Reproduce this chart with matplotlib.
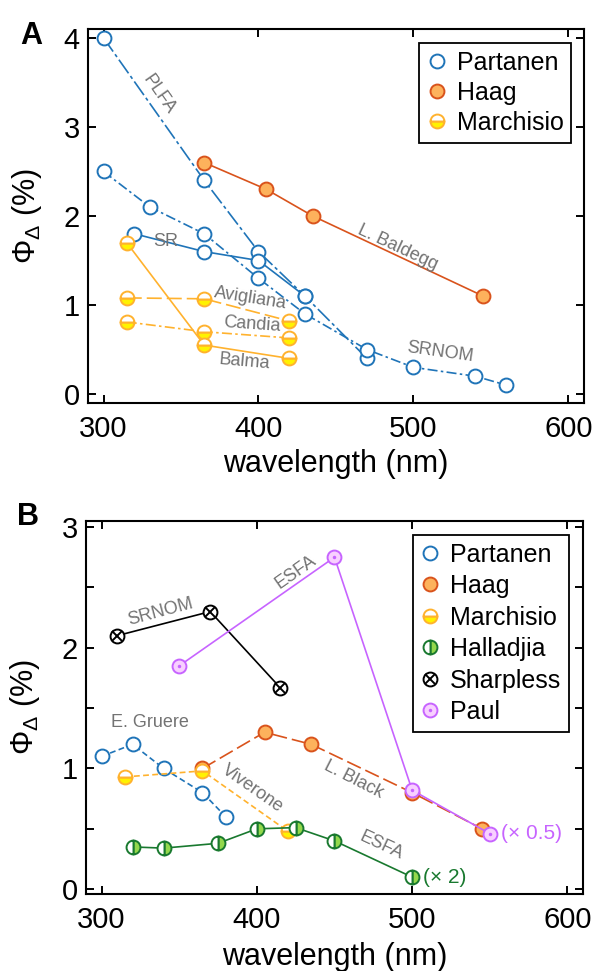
import matplotlib
matplotlib.use('Agg')
import matplotlib.pyplot as plt
from matplotlib.ticker import MultipleLocator

plt.rcParams['font.family'] = ['Liberation Sans', 'DejaVu Sans']
plt.rcParams['mathtext.fontset'] = 'custom'
plt.rcParams['mathtext.rm'] = 'Liberation Sans'
plt.rcParams['mathtext.it'] = 'Liberation Sans:italic'

# ---- panel A data ----
plfa_x = [300, 365, 400, 430, 470]
plfa_y = [4.0, 2.4, 1.6, 1.1, 0.4]
sr_x = [320, 365, 400, 430]
sr_y = [1.8, 1.6, 1.5, 1.1]
srnom_x = [300, 330, 365, 400, 430, 470, 500, 540, 560]
srnom_y = [2.5, 2.1, 1.8, 1.3, 0.9, 0.5, 0.3, 0.2, 0.1]
baldegg_x = [365, 405, 435, 545]
baldegg_y = [2.6, 2.3, 2.0, 1.1]
lakes_x = [315, 365, 420]
avigliana_y = [1.08, 1.07, 0.82]
candia_y = [0.81, 0.70, 0.63]
balma_y = [1.70, 0.55, 0.40]

# ---- panel B data ----
gruere_x = [300, 320, 340, 365, 380]
gruere_y = [1.1, 1.2, 1.0, 0.8, 0.6]
black_x = [365, 405, 435, 500, 545]
black_y = [1.0, 1.3, 1.2, 0.8, 0.5]
viverone_x = [315, 365, 420]
viverone_y = [0.93, 0.98, 0.48]
halladjia_x = [320, 340, 375, 400, 425, 450, 500]
halladjia_y = [0.35, 0.34, 0.38, 0.50, 0.51, 0.40, 0.10]
sharpless_x = [310, 370, 415]
sharpless_y = [2.10, 2.30, 1.67]
paul_x = [350, 450, 500, 550]
paul_y = [1.85, 2.75, 0.82, 0.46]

# ---- styles ----
BLUE = '#1f74b8'
ORANGE = '#d9531c'
ORANGE_FACE = '#fdb25c'
GOLD = '#ffb22e'
YELLOW = '#fff200'
GREEN = '#19792f'
LGREEN = '#93d84c'
VIOLET = '#c764ff'
VFACE = '#f8d0ff'
GRAY = '#737373'

MS = 10
MEW = 1.4
LW = 1.2

part = dict(color=BLUE, marker='o', ms=MS, mew=MEW, mfc='white', mec=BLUE, lw=LW)
haag = dict(color=ORANGE, marker='o', ms=MS, mew=MEW, mfc=ORANGE_FACE, mec=ORANGE, lw=LW)
march = dict(color=GOLD, marker='o', ms=MS, mew=MEW, fillstyle='bottom', mfc=YELLOW,
             markerfacecoloralt='white', mec=GOLD, lw=LW)
hall = dict(color=GREEN, marker='o', ms=MS, mew=MEW, fillstyle='right', mfc=LGREEN,
            markerfacecoloralt='white', mec=GREEN, lw=LW)
sharp = dict(color='black', marker='o', ms=MS, mew=MEW, mfc='white', mec='black', lw=LW)
paul = dict(color=VIOLET, marker='o', ms=MS, mew=MEW, mfc=VFACE, mec=VIOLET, lw=LW)

LONGDASH = (9, 3)
DASHDOT = (6, 2, 1.5, 2)
SHORTDASH = (3.5, 2)

fig = plt.figure(figsize=(5.93, 9.71), dpi=100)
axA = fig.add_axes([0.1484, 0.585, 0.8364, 0.3851])
axB = fig.add_axes([0.1450, 0.0793, 0.8381, 0.3841])


def style_axes(ax, ylim, yminor):
    ax.set_xlim(290, 610)
    ax.set_ylim(*ylim)
    ax.xaxis.set_major_locator(MultipleLocator(100))
    ax.yaxis.set_major_locator(MultipleLocator(1))
    if yminor:
        ax.yaxis.set_minor_locator(MultipleLocator(0.5))
    ax.tick_params(which='both', direction='in', top=True, right=True,
                   length=6, width=1.4, labelsize=21)
    ax.tick_params(axis='x', pad=9)
    ax.tick_params(axis='y', pad=6)
    for s in ax.spines.values():
        s.set_linewidth(1.5)
    ax.set_xlabel('wavelength (nm)', fontsize=22)
    ax.set_ylabel(r'$\Phi_\Delta$ (%)', fontsize=22)
    ax.yaxis.set_label_coords(-0.088, 0.5)


def note(ax, x, y, s, rot=0, color=GRAY, size=13, ha='center'):
    ax.text(x, y, s, rotation=rot, color=color, fontsize=size,
            ha=ha, va='center', rotation_mode='anchor')


# ---------------- panel A ----------------
axA.plot(plfa_x, plfa_y, dashes=(10, 2, 2, 2), **part)
axA.plot(sr_x, sr_y, ls='-', **part)
axA.plot(srnom_x, srnom_y, dashes=DASHDOT, **part)
axA.plot(baldegg_x, baldegg_y, ls='-', **haag)
axA.plot(lakes_x, avigliana_y, dashes=LONGDASH, **march)
axA.plot(lakes_x, candia_y, dashes=DASHDOT, **march)
axA.plot(lakes_x, balma_y, ls='-', **march)

note(axA, 336, 3.36, 'PLFA', rot=-55)
note(axA, 340, 1.71, 'SR')
note(axA, 490, 1.65, 'L. Baldegg', rot=-25)
note(axA, 517, 0.47, 'SRNOM', rot=-8)
note(axA, 395, 1.08, 'Avigliana', rot=-9)
note(axA, 396, 0.78, 'Candia', rot=-4)
note(axA, 391, 0.36, 'Balma', rot=-5)

style_axes(axA, (-0.1, 4.1), False)
axA.xaxis.set_label_coords(0.5, -0.122)

hA = [axA.plot([], [], ls='none', **part)[0],
      axA.plot([], [], ls='none', **haag)[0],
      axA.plot([], [], ls='none', **march)[0]]
legA = axA.legend(hA, ['Partanen', 'Haag', 'Marchisio'], loc='upper right',
                  bbox_to_anchor=(0.974, 0.962), fontsize=18, handlelength=0.8,
                  handletextpad=0.4, labelspacing=0.25, borderpad=0.3,
                  borderaxespad=0, fancybox=False, framealpha=1, edgecolor='black')
legA.get_frame().set_linewidth(1.3)

# ---------------- panel B ----------------
axB.plot(gruere_x, gruere_y, dashes=SHORTDASH, **part)
axB.plot(black_x, black_y, dashes=LONGDASH, **haag)
axB.plot(viverone_x, viverone_y, dashes=SHORTDASH, **march)
axB.plot(halladjia_x, halladjia_y, ls='-', **hall)
axB.plot(sharpless_x, sharpless_y, ls='-', **sharp)
axB.plot(sharpless_x, sharpless_y, ls='none', marker='x', ms=6.5, mew=1.4, color='black')
axB.plot(paul_x, paul_y, ls='-', **paul)
axB.plot(paul_x, paul_y, ls='none', marker='o', ms=2.5, mew=0, color=VIOLET)

note(axB, 338, 2.30, 'SRNOM', rot=15)
note(axB, 425, 2.63, 'ESFA', rot=35)
note(axB, 331, 1.38, 'E. Gruere')
note(axB, 397, 0.83, 'Viverone', rot=-35)
note(axB, 462, 0.91, 'L. Black', rot=-27)
note(axB, 480, 0.36, 'ESFA', rot=-25)
note(axB, 507, 0.10, '(× 2)', color=GREEN, size=15, ha='left')
note(axB, 557, 0.46, '(× 0.5)', color=VIOLET, size=15, ha='left')

style_axes(axB, (-0.04, 3.05), True)
axB.xaxis.set_label_coords(0.5, -0.128)

hB = [axB.plot([], [], ls='none', **part)[0],
      axB.plot([], [], ls='none', **haag)[0],
      axB.plot([], [], ls='none', **march)[0],
      axB.plot([], [], ls='none', **hall)[0],
      (axB.plot([], [], ls='none', **sharp)[0],
       axB.plot([], [], ls='none', marker='x', ms=6.5, mew=1.4, color='black')[0]),
      (axB.plot([], [], ls='none', **paul)[0],
       axB.plot([], [], ls='none', marker='o', ms=2.5, mew=0, color=VIOLET)[0])]
legB = axB.legend(hB, ['Partanen', 'Haag', 'Marchisio', 'Halladjia', 'Sharpless', 'Paul'],
                  loc='upper right', bbox_to_anchor=(0.972, 0.962), fontsize=18,
                  handlelength=0.8, handletextpad=0.4, labelspacing=0.3, borderpad=0.3,
                  borderaxespad=0, fancybox=False, framealpha=1, edgecolor='black')
legB.get_frame().set_linewidth(1.3)

fig.text(0.034, 0.978, 'A', fontsize=22, fontweight='bold', va='top')
fig.text(0.029, 0.483, 'B', fontsize=22, fontweight='bold', va='top')

fig.savefig('out.png', dpi=100)
